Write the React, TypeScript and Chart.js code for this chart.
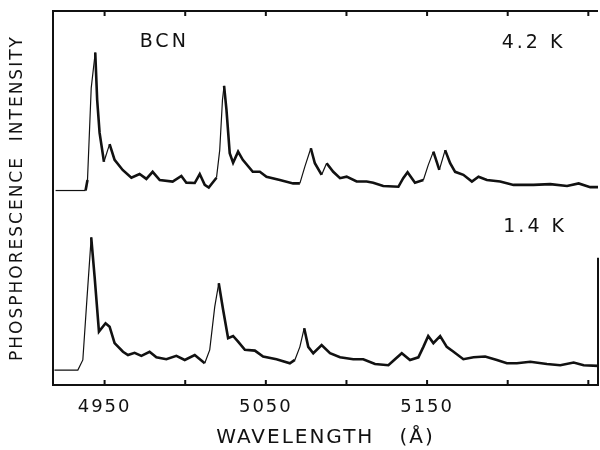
import React, { useEffect, useRef } from "react";
import { Chart, registerables } from "chart.js";

Chart.register(...registerables);

// 4.2 K spectrum (upper trace)
const wavelength42 = [4919.6, 4938.2, 4939.4, 4941.7, 4944.2, 4945.4, 4946.9, 4949.6, 4953.1, 4956.2, 4961.2, 4966.6, 4971.7, 4975.9, 4979.8, 4984.2, 4992.2, 4997.6, 5000.7, 5005.9, 5009.0, 5012.1, 5014.6, 5019.4, 5021.4, 5023.1, 5024.1, 5025.6, 5027.6, 5029.7, 5032.8, 5035.7, 5041.9, 5046.3, 5050.4, 5058.7, 5066.9, 5071.1, 5074.2, 5077.9, 5080.4, 5084.6, 5087.7, 5091.8, 5096.0, 5100.1, 5106.3, 5112.5, 5116.6, 5122.8, 5132.2, 5135.2, 5137.9, 5142.5, 5147.7, 5150.7, 5153.9, 5157.6, 5161.2, 5164.3, 5167.4, 5172.5, 5177.8, 5181.9, 5187.1, 5195.3, 5203.6, 5216.0, 5226.4, 5236.8, 5244.0, 5251.2, 5256.2];
const intensity42 = [52.0, 52.0, 54.8, 79.4, 88.9, 76.2, 67.4, 59.7, 64.4, 60.2, 57.5, 55.4, 56.4, 55.1, 57.0, 54.8, 54.4, 55.9, 54.1, 54.0, 56.4, 53.5, 52.8, 55.4, 62.8, 76.2, 80.0, 73.5, 62.0, 59.4, 62.4, 60.2, 57.0, 57.0, 55.7, 54.8, 53.9, 53.9, 58.4, 63.3, 59.3, 56.2, 59.3, 57.0, 55.3, 55.7, 54.4, 54.4, 54.1, 53.2, 53.0, 55.3, 56.9, 54.1, 54.8, 58.8, 62.4, 57.5, 62.8, 59.3, 57.0, 56.2, 54.4, 55.7, 54.8, 54.4, 53.5, 53.5, 53.7, 53.2, 53.9, 52.9, 52.9];

// 1.4 K spectrum (lower trace)
const wavelength14 = [4918.9, 4933.4, 4936.5, 4939.0, 4941.7, 4943.8, 4946.5, 4950.6, 4953.1, 4956.2, 4961.4, 4964.5, 4968.6, 4972.8, 4977.9, 4982.1, 4988.3, 4994.5, 4999.7, 5005.9, 5012.1, 5015.2, 5018.3, 5020.8, 5023.5, 5026.6, 5029.7, 5032.8, 5037.0, 5043.2, 5048.3, 5056.6, 5064.9, 5068.0, 5071.1, 5073.8, 5076.3, 5079.4, 5084.6, 5089.8, 5096.0, 5104.2, 5110.4, 5117.7, 5126.0, 5130.1, 5134.3, 5139.4, 5144.6, 5147.7, 5150.7, 5153.9, 5158.1, 5162.2, 5166.4, 5172.5, 5178.8, 5186.0, 5193.3, 5199.5, 5205.7, 5214.0, 5224.3, 5232.6, 5240.9, 5247.1, 5256.2];
const intensity14 = [4.0, 4.0, 6.7, 22.7, 39.5, 29.0, 14.3, 16.5, 15.6, 11.2, 8.9, 8.0, 8.6, 7.8, 8.9, 7.4, 6.9, 7.8, 6.7, 8.0, 5.8, 9.4, 20.9, 27.2, 20.1, 12.5, 13.1, 11.6, 9.4, 9.2, 7.6, 6.9, 5.8, 6.7, 10.2, 15.2, 10.2, 8.5, 10.7, 8.5, 7.4, 6.9, 6.9, 5.6, 5.3, 6.9, 8.5, 6.7, 7.4, 10.2, 13.1, 11.2, 13.1, 10.2, 8.9, 6.9, 7.4, 7.6, 6.7, 5.8, 5.8, 6.2, 5.6, 5.3, 6.0, 5.3, 5.1];

const tickValues = [4950, 5000, 5050, 5100, 5150, 5200, 5250];
const tickLabels = ["4950", "", "5050", "", "5150", "", ""];

const annotationTexts = ["BCN", "4.2 K", "1.4 K"];
const annotationX = [4987, 5216, 5217];
const annotationY = [91.7, 91.5, 42.2];

const xMin = 4918;
const xMax = 5256;

const FONT = "'DejaVu Sans', sans-serif";

const framePlugin = {
  id: "frame",
  beforeDraw(chart: any) {
    (chart.ctx as any).letterSpacing = "2px";
  },
  afterDraw(chart: any) {
    const { ctx, chartArea } = chart;
    const xs = chart.scales.x;
    const ys = chart.scales.y;
    ctx.save();
    ctx.strokeStyle = "#111";
    ctx.lineWidth = 2;
    // top frame line
    ctx.beginPath();
    ctx.moveTo(chartArea.left, chartArea.top);
    ctx.lineTo(chartArea.right, chartArea.top);
    ctx.stroke();
    // partial right frame line
    ctx.beginPath();
    ctx.moveTo(chartArea.right, ys.getPixelForValue(34));
    ctx.lineTo(chartArea.right, chartArea.bottom);
    ctx.stroke();
    // inward ticks
    tickValues.forEach((v) => {
      const px = xs.getPixelForValue(v);
      ctx.beginPath();
      ctx.moveTo(px, chartArea.bottom);
      ctx.lineTo(px, chartArea.bottom - 5);
      ctx.moveTo(px, chartArea.top);
      ctx.lineTo(px, chartArea.top + 5);
      ctx.stroke();
    });
    // annotations
    (ctx as any).letterSpacing = "3px";
    ctx.fillStyle = "#111";
    ctx.textAlign = "center";
    ctx.textBaseline = "middle";
    ctx.font = `19px ${FONT}`;
    annotationTexts.forEach((t, i) => {
      ctx.fillText(t, xs.getPixelForValue(annotationX[i]), ys.getPixelForValue(annotationY[i]));
    });
    ctx.restore();
  },
};

export default function App() {
  const ref = useRef<HTMLCanvasElement>(null);
  useEffect(() => {
    if (!ref.current) return;
    const seg = {
      borderWidth: (c: any) => (c.p1.parsed.y - c.p0.parsed.y > 3 || c.p0.parsed.x < 4936 ? 1.2 : 2.6),
    };
    const chart = new Chart(ref.current, {
      type: "line",
      data: {
        datasets: [
          {
            label: "4.2 K",
            data: wavelength42.map((x, i) => ({ x, y: intensity42[i] })),
            borderColor: "#111",
            borderWidth: 2.6,
            pointRadius: 0,
            tension: 0,
            fill: false,
            segment: seg,
          },
          {
            label: "1.4 K",
            data: wavelength14.map((x, i) => ({ x, y: intensity14[i] })),
            borderColor: "#111",
            borderWidth: 2.6,
            pointRadius: 0,
            tension: 0,
            fill: false,
            segment: seg,
          },
        ],
      },
      options: {
        animation: false,
        responsive: false,
        maintainAspectRatio: false,
        layout: { padding: { top: 11, right: 2, left: 0, bottom: 0 } },
        plugins: { legend: { display: false }, tooltip: { enabled: false } },
        scales: {
          x: {
            type: "linear",
            min: xMin,
            max: xMax,
            grid: { display: false },
            border: { display: true, color: "#111", width: 2 },
            afterBuildTicks: (scale: any) => {
              scale.ticks = tickValues.map((v) => ({ value: v }));
            },
            afterFit: (scale: any) => {
              scale.height = 65;
            },
            ticks: {
              autoSkip: false,
              maxRotation: 0,
              padding: 4,
              color: "#111",
              font: { family: FONT, size: 18 },
              callback: (v: any) => {
                const idx = tickValues.indexOf(Number(v));
                return idx >= 0 ? tickLabels[idx] : "";
              },
            },
            title: {
              display: true,
              text: "WAVELENGTH   (Å)",
              color: "#111",
              font: { family: FONT, size: 20 },
              padding: { top: 0, bottom: 0 },
            },
          },
          y: {
            min: 0,
            max: 100,
            grid: { display: false },
            border: { display: true, color: "#111", width: 2 },
            ticks: { display: false },
            afterFit: (scale: any) => {
              scale.width = 53;
            },
            title: {
              display: true,
              text: "PHOSPHORESCENCE  INTENSITY",
              color: "#111",
              font: { family: FONT, size: 17 },
              padding: { top: 7, bottom: 0 },
            },
          },
        },
      },
      plugins: [framePlugin],
    });
    return () => chart.destroy();
  }, []);
  return (
    <div style={{ position: "fixed", left: 0, top: 0, width: 600, height: 450, background: "#fff" }}>
      <canvas ref={ref} width={600} height={450} />
    </div>
  );
}
